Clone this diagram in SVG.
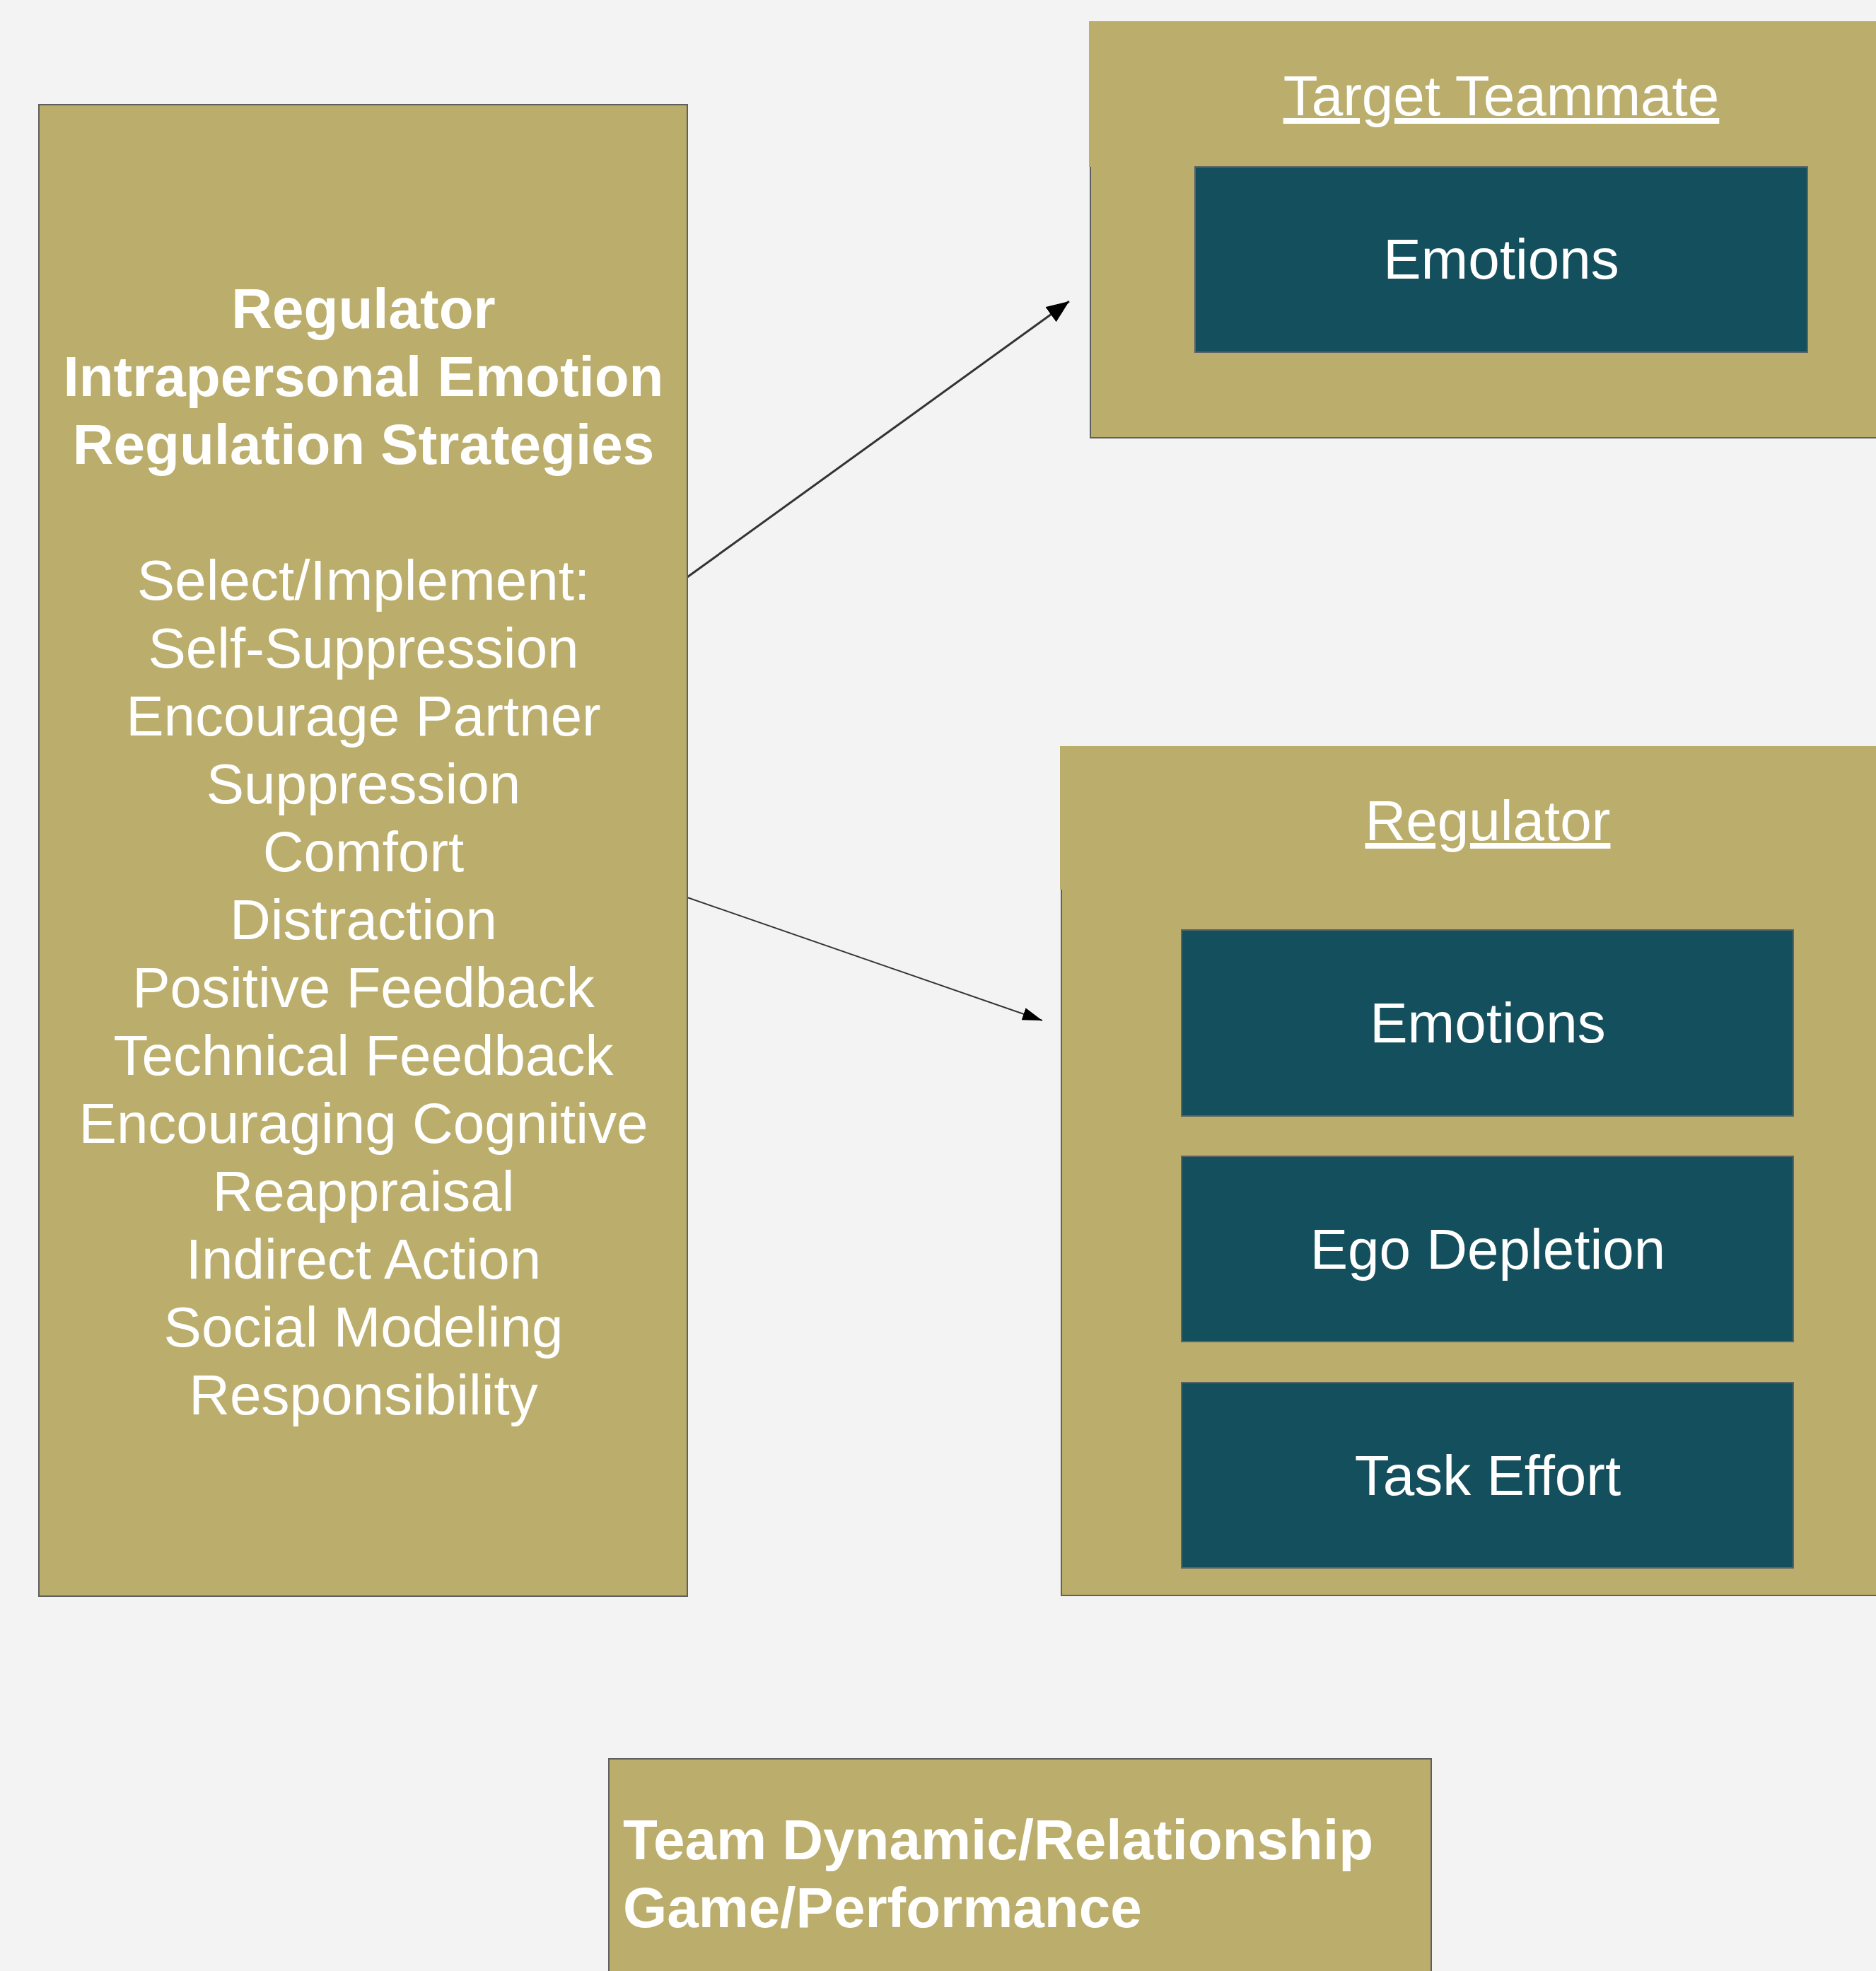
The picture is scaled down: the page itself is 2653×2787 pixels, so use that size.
<svg xmlns="http://www.w3.org/2000/svg" width="2653" height="2787" viewBox="0 0 2653 2787">
<defs>
<style>
.bg{fill:#f3f3f3}
.tan{fill:#bbad6b;stroke:#5f5f5f;stroke-width:2}
.tanfill{fill:#bbad6b;stroke:none}
.teal{fill:#134f5c;stroke:#5a6468;stroke-width:2}
text{font-family:"Liberation Sans",Arial,sans-serif;font-size:80px;fill:#ffffff}
.c{text-anchor:middle}
.b{font-weight:bold}
.u{text-decoration:underline}
.conn{fill:none;stroke:#333333}
</style>
<marker id="ah1" markerUnits="userSpaceOnUse" markerWidth="32" markerHeight="26" refX="32" refY="13" orient="auto">
<path d="M0,0 L32,13 L0,26 z" fill="#000"/>
</marker>
<marker id="ah2" markerUnits="userSpaceOnUse" markerWidth="28" markerHeight="18" refX="28" refY="9" orient="auto">
<path d="M0,0 L28,9 L0,18 z" fill="#000"/>
</marker>
</defs>
<rect class="bg" x="0" y="0" width="2653" height="2787"/>

<g id="connectors">
<path class="conn" stroke-width="3" d="M972,816 L1512,426" marker-end="url(#ah1)"/>
<path class="conn" stroke-width="2" d="M972,1269 L1474,1443" marker-end="url(#ah2)"/>
</g>

<g id="strategies">
<rect class="tan" x="55" y="148" width="917" height="2109"/>
<text class="c b" x="514" y="464">Regulator</text>
<text class="c b" x="514" y="560">Intrapersonal Emotion</text>
<text class="c b" x="514" y="656">Regulation Strategies</text>
<text class="c" x="514" y="848">Select/Implement:</text>
<text class="c" x="514" y="944">Self-Suppression</text>
<text class="c" x="514" y="1040">Encourage Partner</text>
<text class="c" x="514" y="1136">Suppression</text>
<text class="c" x="514" y="1232">Comfort</text>
<text class="c" x="514" y="1328">Distraction</text>
<text class="c" x="514" y="1424">Positive Feedback</text>
<text class="c" x="514" y="1520">Technical Feedback</text>
<text class="c" x="514" y="1616">Encouraging Cognitive</text>
<text class="c" x="514" y="1712">Reappraisal</text>
<text class="c" x="514" y="1808">Indirect Action</text>
<text class="c" x="514" y="1904">Social Modeling</text>
<text class="c" x="514" y="2000">Responsibility</text>
</g>

<g id="target-teammate">
<rect class="tan" x="1542" y="32" width="1130" height="587"/>
<rect class="tanfill" x="1540" y="30" width="1130" height="206"/>
<text class="c u" x="2123" y="163">Target Teammate</text>
</g>
<g id="target-emotions">
<rect class="teal" x="1690" y="236" width="866" height="262"/>
<text class="c" x="2123" y="394">Emotions</text>
</g>

<g id="regulator">
<rect class="tan" x="1501" y="1057" width="1170" height="1199"/>
<rect class="tanfill" x="1499" y="1055" width="1170" height="203"/>
<text class="c u" x="2104" y="1188">Regulator</text>
</g>
<g id="regulator-emotions">
<rect class="teal" x="1671" y="1315" width="865" height="263"/>
<text class="c" x="2104" y="1474">Emotions</text>
</g>
<g id="ego-depletion">
<rect class="teal" x="1671" y="1635" width="865" height="262"/>
<text class="c" x="2104" y="1794">Ego Depletion</text>
</g>
<g id="task-effort">
<rect class="teal" x="1671" y="1955" width="865" height="262"/>
<text class="c" x="2104" y="2114">Task Effort</text>
</g>

<g id="team-dynamic">
<rect class="tan" x="861" y="2487" width="1163" height="320"/>
<text class="b" x="881" y="2629">Team Dynamic/Relationship</text>
<text class="b" x="881" y="2725">Game/Performance</text>
</g>
</svg>
